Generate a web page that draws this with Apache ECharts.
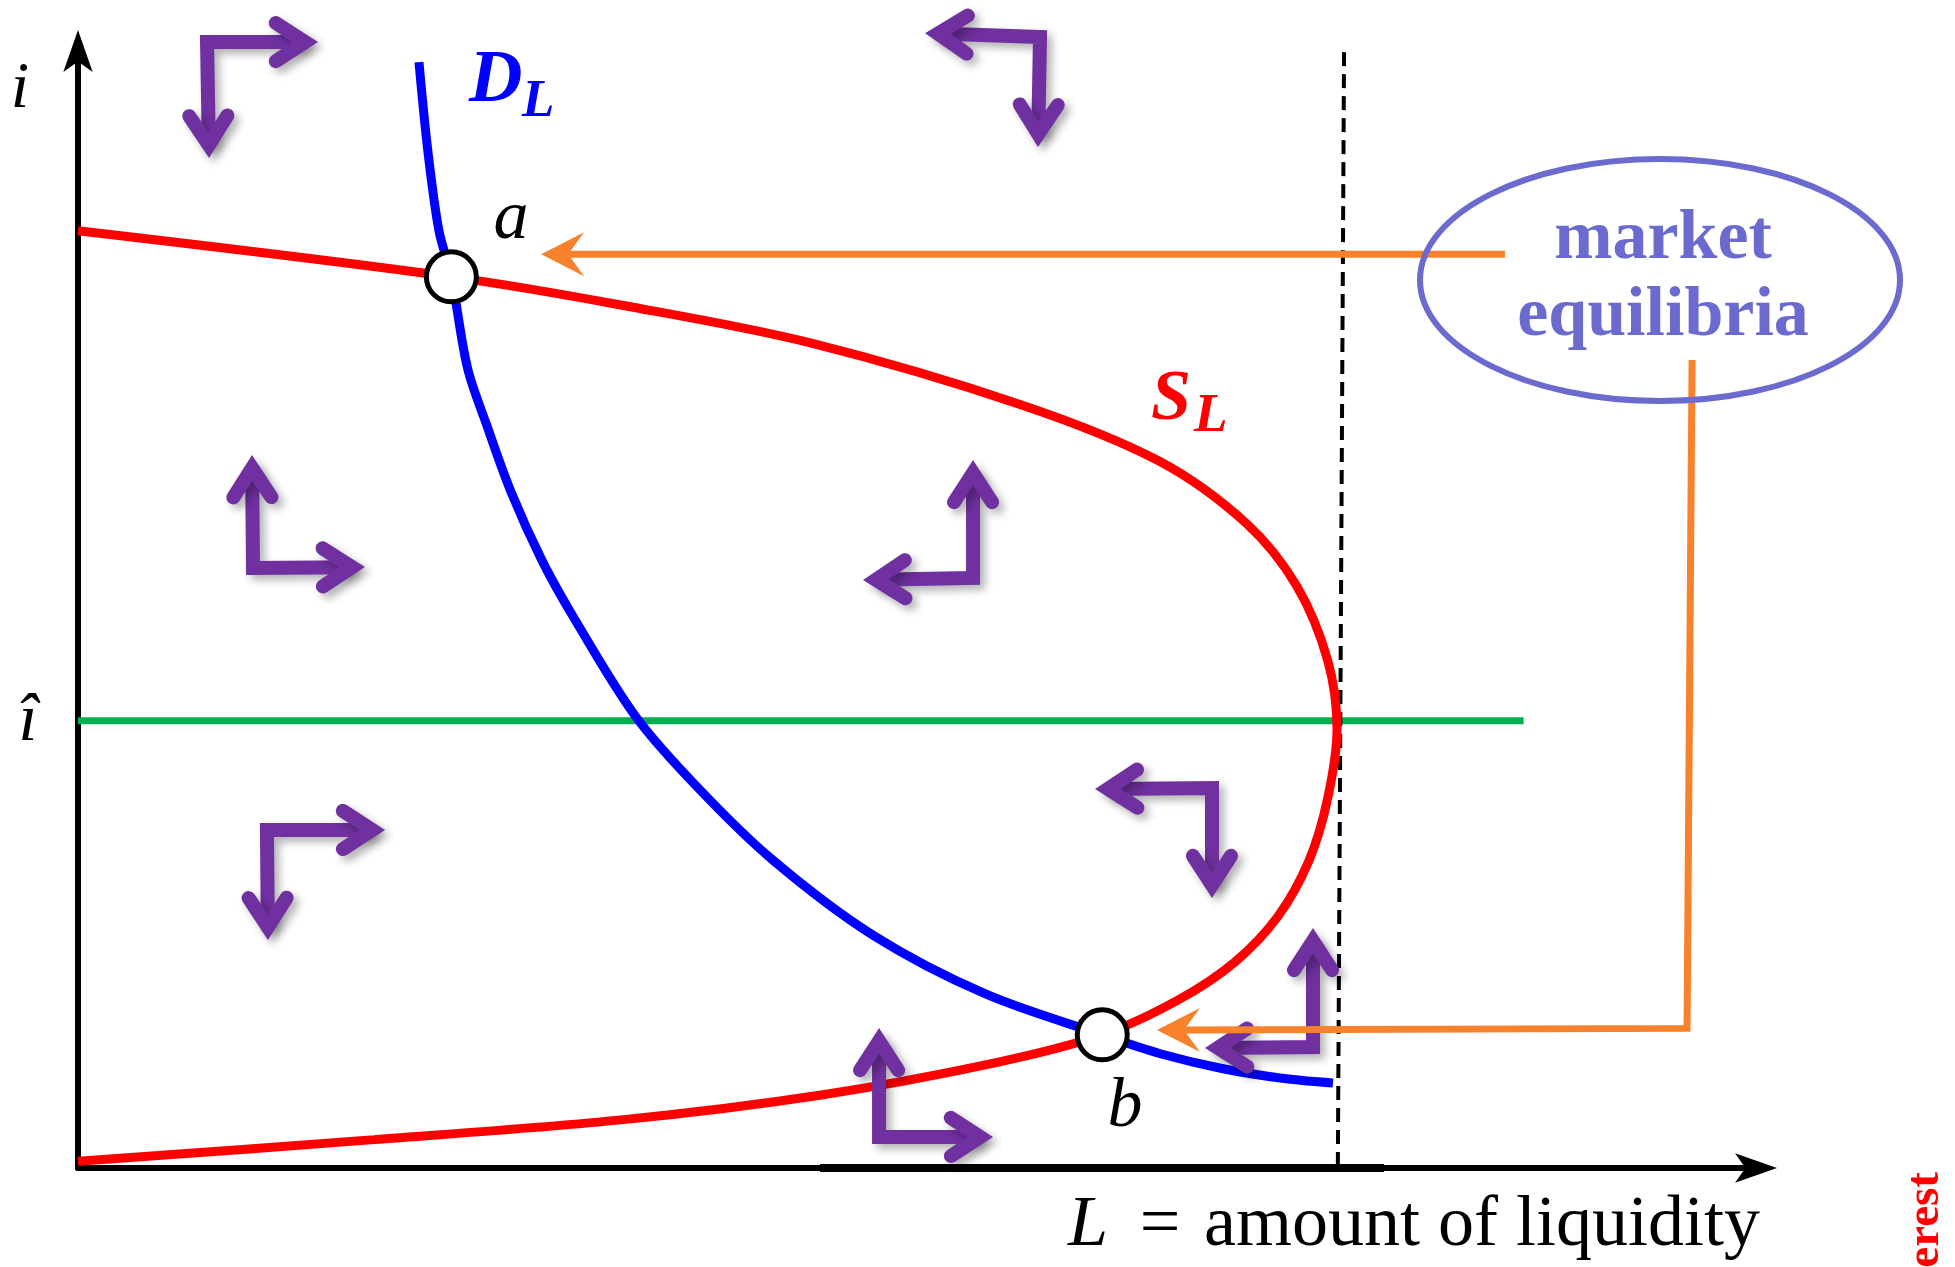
<!DOCTYPE html>
<html>
<head>
<meta charset="utf-8">
<title>Liquidity market equilibria</title>
<script src="https://cdn.jsdelivr.net/npm/echarts@6/dist/echarts.min.js"></script>
<style>
html, body { margin: 0; padding: 0; background: #fff; }
#main { width: 1955px; height: 1267px; }
</style>
</head>
<body>
<div id="main"></div>
<script>
// supply of liquidity S_L (bends back), L and i values
var supplyL = [0, 22.25, 32.5, 43.65, 56.28, 64.45, 69.65, 72.63, 74.48, 75.03, 74.48, 73.37, 71.51, 68.91, 65.57, 61.04, 54.79, 44.39, 32.5, 17.64, 0];
var supplyI = [83.9, 79.78, 77.22, 73.87, 68.29, 63.27, 57.68, 52.1, 45.41, 39.3, 33.13, 27.55, 22.53, 18.4, 15.05, 11.92, 9.46, 6.56, 4.33, 2.54, 0.6];

// demand for liquidity D_L
var demandL = [20.32, 20.84, 21.51, 22.25, 23.21, 24.33, 25.82, 27.67, 29.53, 33.25, 36.96, 41.42, 47.37, 54.05, 61.04, 64.45, 68.17, 71.88, 74.79];
var demandI = [99.0, 91.17, 83.92, 79.78, 71.64, 66.62, 60.47, 54.33, 49.31, 40.39, 34.02, 27.55, 20.85, 15.6, 11.92, 10.25, 8.91, 8.01, 7.61];

// i-hat level and the liquidity ceiling (dashed)
var hatL = [0, 86.15];
var hatI = [40.05, 40.05];
var ceilL = [75.45, 75.08];
var ceilI = [99.9, 0];

// equilibria a and b
var eqL = [22.25, 61.04];
var eqI = [79.78, 11.92];

// orange pointers from the "market equilibria" note
var pointerTopL = [85.04, 29.1];
var pointerTopI = [81.8, 81.8];
var pointerLowL = [96.19, 95.89, 65.8];
var pointerLowI = [72.34, 12.5, 12.35];
// arrow heads: tip L, tip i, from L, from i
var pointerHeads = [
    [27.6, 81.8, 40, 81.8],
    [64.3, 12.35, 80, 12.35]
];

// purple adjustment arrows: corner L, corner i, tip1 L, tip1 i, tip2 L, tip2 i
var bentArrows = [
    [7.69, 100.8, 14.3, 100.8, 7.81, 90.42],
    [57.33, 101.25, 50.48, 101.6, 57.21, 91.41],
    [10.43, 53.72, 10.37, 63.83, 17.1, 53.8],
    [53.34, 52.82, 53.34, 63.38, 46.78, 52.64],
    [11.26, 30.26, 18.3, 30.26, 11.32, 20.41],
    [67.58, 34.02, 60.61, 33.93, 67.58, 24.17],
    [47.74, 2.78, 47.74, 12.53, 54.53, 2.78],
    [73.6, 10.83, 73.6, 21.49, 67.16, 10.74]
];

// thicker bit of the L axis
var axisBoldL = [44.22, 77.83];
var axisBoldI = [0, 0];

function pairs(xs, ys) {
    return xs.map(function (x, k) { return [x, ys[k]]; });
}

var serif = '"Liberation Serif", "DejaVu Serif", serif';
var purple = '#7030a0';
var orange = '#f7822b';
var noteColor = '#6b6bcf';

function purpleStyle(cap) {
    return {
        stroke: purple,
        fill: null,
        lineWidth: 14,
        lineJoin: 'miter',
        lineCap: cap,
        shadowBlur: 8,
        shadowOffsetX: 5,
        shadowOffsetY: 5,
        shadowColor: 'rgba(0,0,0,0.3)'
    };
}

// chevron head, pulled back so the miter point lands on the tip
function chevron(tip, from) {
    var dx = tip[0] - from[0], dy = tip[1] - from[1];
    var len = Math.sqrt(dx * dx + dy * dy);
    var ux = dx / len, uy = dy / len;
    var a = 33 * Math.PI / 180, arm = 35;
    var back = 7 / Math.sin(a);
    var tx = tip[0] - ux * back, ty = tip[1] - uy * back;
    var c = Math.cos(a), s = Math.sin(a);
    var b1 = [tx - arm * (ux * c - uy * s), ty - arm * (uy * c + ux * s)];
    var b2 = [tx - arm * (ux * c + uy * s), ty - arm * (uy * c - ux * s)];
    return {
        vertex: [tx, ty],
        el: { type: 'polyline', shape: { points: [b1, [tx, ty], b2] }, style: purpleStyle('round') }
    };
}

function bentArrow(params, api) {
    var c = api.coord([api.value(0), api.value(1)]);
    var t1 = api.coord([api.value(2), api.value(3)]);
    var t2 = api.coord([api.value(4), api.value(5)]);
    var h1 = chevron(t1, c);
    var h2 = chevron(t2, c);
    return {
        type: 'group',
        children: [
            { type: 'polyline', shape: { points: [h1.vertex, c, h2.vertex] }, style: purpleStyle('butt') },
            h1.el,
            h2.el
        ]
    };
}

function pointerHead(params, api) {
    var tip = api.coord([api.value(0), api.value(1)]);
    var from = api.coord([api.value(2), api.value(3)]);
    var dx = tip[0] - from[0], dy = tip[1] - from[1];
    var len = Math.sqrt(dx * dx + dy * dy);
    var ux = dx / len, uy = dy / len;
    var nx = -uy, ny = ux;
    var L = 43, W = 22, N = 27;
    return {
        type: 'polygon',
        shape: {
            points: [
                tip,
                [tip[0] - L * ux + W * nx, tip[1] - L * uy + W * ny],
                [tip[0] - N * ux, tip[1] - N * uy],
                [tip[0] - L * ux - W * nx, tip[1] - L * uy - W * ny]
            ]
        },
        style: { fill: orange }
    };
}

function txt(x, y, text, size, opts) {
    opts = opts || {};
    return {
        type: 'text',
        x: x,
        y: y,
        z: 20,
        rotation: opts.rotation || 0,
        style: {
            text: text,
            fontFamily: serif,
            fontSize: size,
            fontStyle: opts.italic ? 'italic' : 'normal',
            fontWeight: opts.bold ? 'bold' : 'normal',
            fill: opts.color || '#000',
            align: opts.align || 'left',
            verticalAlign: 'middle'
        }
    };
}

var axisStyle = {
    show: true,
    onZero: false,
    symbol: ['none', 'arrow'],
    symbolSize: [22, 42],
    symbolOffset: [0, 21],
    lineStyle: { color: '#000', width: 6 }
};

var myChart = echarts.init(document.getElementById('main'));

var option = {
    backgroundColor: '#fff',
    animation: false,
    grid: { left: 78, right: 199, top: 51, bottom: 99, outerBoundsMode: 'none' },
    xAxis: {
        type: 'value',
        min: 0,
        max: 100,
        axisLine: axisStyle,
        axisTick: { show: false },
        axisLabel: { show: false },
        splitLine: { show: false }
    },
    yAxis: {
        type: 'value',
        min: 0,
        max: 100,
        axisLine: axisStyle,
        axisTick: { show: false },
        axisLabel: { show: false },
        splitLine: { show: false }
    },
    series: [
        {
            type: 'line',
            data: pairs(axisBoldL, axisBoldI),
            symbol: 'none',
            lineStyle: { color: '#000', width: 8 },
            clip: false,
            z: 1
        },
        {
            name: 'i hat',
            type: 'line',
            data: pairs(hatL, hatI),
            symbol: 'none',
            lineStyle: { color: '#00b050', width: 7 },
            z: 2
        },
        {
            name: 'ceiling',
            type: 'line',
            data: pairs(ceilL, ceilI),
            symbol: 'none',
            lineStyle: { color: '#000', width: 4, type: [14, 8] },
            clip: false,
            z: 2
        },
        {
            name: 'S_L',
            type: 'line',
            data: pairs(supplyL, supplyI),
            symbol: 'none',
            smooth: 0.33,
            lineStyle: { color: '#ff0000', width: 9 },
            clip: false,
            z: 3
        },
        {
            name: 'D_L',
            type: 'line',
            data: pairs(demandL, demandI),
            symbol: 'none',
            smooth: 0.33,
            lineStyle: { color: '#0000ff', width: 9 },
            clip: false,
            z: 3
        },
        {
            type: 'custom',
            renderItem: bentArrow,
            data: bentArrows,
            clip: false,
            z: 4
        },
        {
            type: 'line',
            data: pairs(pointerTopL, pointerTopI),
            symbol: 'none',
            lineStyle: { color: orange, width: 7 },
            clip: false,
            z: 5
        },
        {
            type: 'line',
            data: pairs(pointerLowL, pointerLowI),
            symbol: 'none',
            lineStyle: { color: orange, width: 7, join: 'miter' },
            clip: false,
            z: 5
        },
        {
            type: 'custom',
            renderItem: pointerHead,
            data: pointerHeads,
            clip: false,
            z: 5
        },
        {
            name: 'equilibria',
            type: 'scatter',
            data: pairs(eqL, eqI),
            symbol: 'circle',
            symbolSize: 50,
            itemStyle: { color: '#fff', borderColor: '#000', borderWidth: 5, opacity: 1 },
            clip: false,
            z: 6
        }
    ],
    graphic: [
        {
            type: 'ellipse',
            z: 15,
            shape: { cx: 1660, cy: 280, rx: 240, ry: 121 },
            style: { fill: null, stroke: noteColor, lineWidth: 6 }
        },
        txt(1663, 240, 'market', 70, { bold: true, color: noteColor, align: 'center' }),
        txt(1663, 317, 'equilibria', 70, { bold: true, color: noteColor, align: 'center' }),
        txt(20, 90, 'i', 66, { italic: true, align: 'center' }),
        txt(28, 722, 'î', 68, { italic: true, align: 'center' }),
        txt(469, 82, 'D', 74, { italic: true, bold: true, color: '#0000ff' }),
        txt(522, 102, 'L', 53, { italic: true, bold: true, color: '#0000ff' }),
        txt(1151, 400, 'S', 72, { italic: true, bold: true, color: '#ff0000' }),
        txt(1194, 417, 'L', 55, { italic: true, bold: true, color: '#ff0000' }),
        txt(511, 220, 'a', 70, { italic: true, align: 'center' }),
        txt(1125, 1108, 'b', 70, { italic: true, align: 'center' }),
        txt(1068, 1226, 'L', 72, { italic: true }),
        txt(1160, 1226, '=', 72, { align: 'center' }),
        txt(1204, 1226, 'amount of liquidity', 72, {}),
        txt(1926, 1172, 'interest', 47, { bold: true, color: '#ff0000', align: 'right', rotation: Math.PI / 2 })
    ]
};

myChart.setOption(option);
</script>
</body>
</html>
